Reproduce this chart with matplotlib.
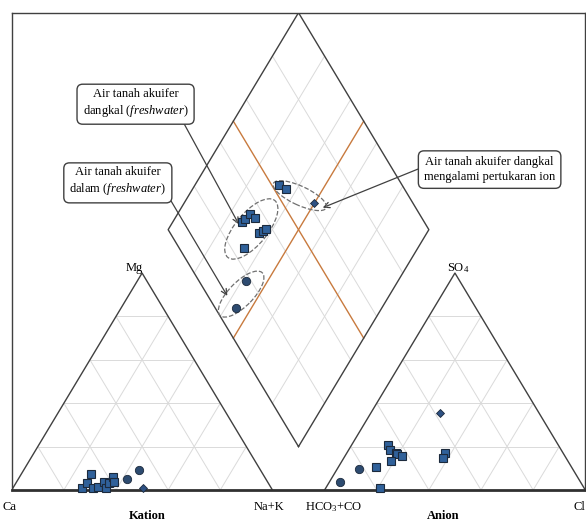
import matplotlib
matplotlib.use('Agg')
import matplotlib.pyplot as plt
from matplotlib.patches import Ellipse
import numpy as np

plt.rcParams['font.family'] = 'Liberation Serif'
plt.rcParams['mathtext.fontset'] = 'custom'
plt.rcParams['mathtext.rm'] = 'Liberation Serif'
plt.rcParams['mathtext.it'] = 'Liberation Serif:italic'

# kation (%): air tanah dangkal, dalam, dangkal dgn pertukaran ion
shallow_mg = [7.2, 0.8, 3.1, 0.8, 1.5, 3.8, 0.8, 3.1, 5.9, 3.8]
shallow_nak = [26.7, 26.5, 27.5, 30.7, 32.5, 33.5, 35.7, 35.9, 36.0, 37.5]
deep_mg = [5.1, 9.1]
deep_nak = [41.6, 44.1]
ion_mg = [0.8]
ion_nak = [49.9]

# anion (%)
shallow_so4 = [20.8, 18.5, 16.9, 16.5, 15.8, 13.4, 10.5, 1.0, 16.9, 14.8]
shallow_cl = [13.8, 16.0, 18.9, 19.5, 21.8, 18.8, 14.4, 20.6, 37.6, 38.0]
deep_so4 = [3.8, 9.6]
deep_cl = [4.1, 8.5]
ion_so4 = [35.3]
ion_cl = [26.7]

# belah ketupat: Ca+Mg (%) dan SO4+Cl (%)
shallow_camg = [67.5, 64.1, 73.5, 72.9, 72.3, 69.2, 64.3, 63.5, 62.7, 66.6]
shallow_so4cl = [52.9, 54.5, 30.2, 32.0, 34.8, 36.0, 34.3, 35.9, 37.5, 24.8]
deep_camg = [58.2, 56.1]
deep_so4cl = [18.2, 8.0]
ion_camg = [50.3]
ion_so4cl = [62.1]

G = 0.2
H = np.sqrt(3) / 2


def cat_xy(mg, nak):
    mg = np.array(mg) / 100; nak = np.array(nak) / 100
    return nak + mg / 2, mg * H


def an_xy(so4, cl):
    so4 = np.array(so4) / 100; cl = np.array(cl) / 100
    return 1 + G + cl + so4 / 2, so4 * H


def dia_xy(camg, so4cl):
    s = np.array(camg) / 100; u = np.array(so4cl) / 100
    return 1 + G / 2 + 0.5 * (u - s), H * (G + s + u)


fig = plt.figure(figsize=(5.86, 5.23), dpi=100)
ax = fig.add_axes([0.02, 0.0631, 0.9788, 0.9126])
ax.set_xlim(0, 2 + G)
ax.set_ylim(0, H * (2 + G))
ax.set_xticks([]); ax.set_yticks([])
for sp in ax.spines.values():
    sp.set_color('#404040'); sp.set_linewidth(1.0)
ax.spines['bottom'].set_linewidth(2.0)
ax.spines['bottom'].set_color('#303030')

grid_c = '#dadada'
edge_c = '#404040'
fr = [0.2, 0.4, 0.6, 0.8]

# segitiga
for x0 in [0, 1 + G]:
    for f in fr:
        ax.plot([x0 + f / 2, x0 + 1 - f / 2], [f * H, f * H], color=grid_c, lw=0.7, zorder=1)
        ax.plot([x0 + f, x0 + f + (1 - f) / 2], [0, (1 - f) * H], color=grid_c, lw=0.7, zorder=1)
        ax.plot([x0 + 1 - f, x0 + (1 - f) / 2], [0, (1 - f) * H], color=grid_c, lw=0.7, zorder=1)
    ax.plot([x0, x0 + 0.5, x0 + 1], [0, H, 0], color=edge_c, lw=1.0, zorder=2)

# belah ketupat
for f in fr:
    xa, ya = dia_xy([f * 100, f * 100], [0, 100])
    ax.plot(xa, ya, color=grid_c, lw=0.7, zorder=1)
    xb, yb = dia_xy([0, 100], [f * 100, f * 100])
    ax.plot(xb, yb, color=grid_c, lw=0.7, zorder=1)
xa, ya = dia_xy([50, 50], [0, 100])
ax.plot(xa, ya, color='#c87a3e', lw=1.0, zorder=2)
xb, yb = dia_xy([0, 100], [50, 50])
ax.plot(xb, yb, color='#c87a3e', lw=1.0, zorder=2)
xd, yd = dia_xy([0, 100, 100, 0, 0], [0, 0, 100, 100, 0])
ax.plot(xd, yd, color=edge_c, lw=1.0, zorder=2)

sq = dict(marker='s', ms=5.6, mfc='#30619a', mec='#1c2a3c', mew=0.8, ls='none', zorder=5)
ci = dict(marker='o', ms=6, mfc='#2d4b70', mec='#1c2a3c', mew=0.6, ls='none', zorder=5)
di = dict(marker='D', ms=4.5, mfc='#2e5183', mec='#1c2a3c', mew=0.6, ls='none', zorder=5)

ax.plot(*cat_xy(shallow_mg, shallow_nak), clip_on=False, **sq)
ax.plot(*cat_xy(deep_mg, deep_nak), clip_on=False, **ci)
ax.plot(*cat_xy(ion_mg, ion_nak), clip_on=False, **di)
ax.plot(*an_xy(shallow_so4, shallow_cl), clip_on=False, **sq)
ax.plot(*an_xy(deep_so4, deep_cl), clip_on=False, **ci)
ax.plot(*an_xy(ion_so4, ion_cl), clip_on=False, **di)
ax.plot(*dia_xy(shallow_camg, shallow_so4cl), **sq)
ax.plot(*dia_xy(deep_camg, deep_so4cl), **ci)
ax.plot(*dia_xy(ion_camg, ion_so4cl), **di)

# elips kelompok
ell = dict(fill=False, ls='--', ec='#707070', lw=0.9, zorder=4)
ax.add_patch(Ellipse((0.919, 1.042), 0.29, 0.125, angle=52, **ell))
ax.add_patch(Ellipse((0.880, 0.782), 0.235, 0.095, angle=47, **ell))
ax.add_patch(Ellipse((1.105, 1.175), 0.225, 0.075, angle=-26, **ell))

box = dict(boxstyle='round,pad=0.45', fc='white', ec='#404040', lw=1.0)
arr = dict(arrowstyle='->', color='#404040', lw=0.9, shrinkA=0, shrinkB=0)
ax.text(0.475, 1.544, 'Air tanah akuifer\ndangkal ($\\mathit{freshwater}$)', fontsize=9,
        ha='center', va='center', bbox=box, zorder=6, linespacing=1.25)
ax.text(0.407, 1.230, 'Air tanah akuifer\ndalam ($\\mathit{freshwater}$)', fontsize=9,
        ha='center', va='center', bbox=box, zorder=6, linespacing=1.25)
ax.text(1.833, 1.279, 'Air tanah akuifer dangkal\nmengalami pertukaran ion', fontsize=9,
        ha='center', va='center', bbox=box, zorder=6, linespacing=1.25)
ax.annotate('', xy=(0.871, 1.061), xytext=(0.659, 1.466), arrowprops=arr, zorder=3)
ax.annotate('', xy=(0.827, 0.775), xytext=(0.611, 1.154), arrowprops=arr, zorder=3)
ax.annotate('', xy=(1.193, 1.127), xytext=(1.558, 1.281), arrowprops=arr, zorder=3)

# label sudut
lab = dict(fontsize=9, va='center', clip_on=False)
ax.text(-0.009, -0.068, 'Ca', ha='center', **lab)
ax.text(0.987, -0.068, 'Na+K', ha='center', **lab)
ax.text(1.236, -0.068, 'HCO$_3$+CO', ha='center', **lab)
ax.text(2.153, -0.068, 'Cl', ha='left', **lab)
ax.text(0.505, 0.885, 'Mg', ha='right', **lab)
ax.text(1.712, 0.885, 'SO$_4$', ha='center', **lab)
ax.text(0.519, -0.104, 'Kation', ha='center', fontweight='bold', **lab)
ax.text(1.654, -0.104, 'Anion', ha='center', fontweight='bold', **lab)

fig.savefig('out.png', dpi=100)
